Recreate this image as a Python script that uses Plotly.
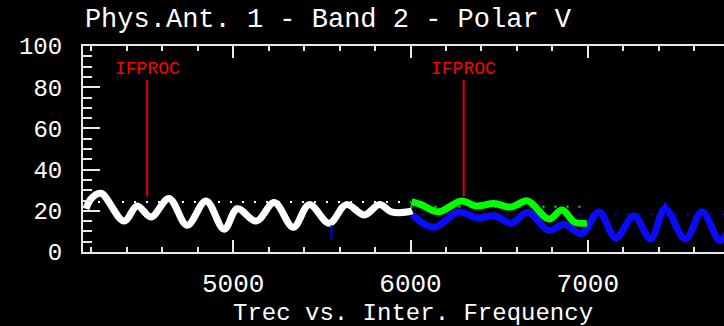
import plotly.graph_objects as go

# ---- data ----
white_x = [4170, 4200, 4254, 4384, 4458, 4537, 4638, 4740, 4847, 4949, 5023, 5130, 5232, 5339, 5429, 5542, 5638, 5740, 5825, 5893, 5990, 6010]
white_y = [21, 26, 28.5, 15, 22.3, 17, 26, 13, 24.8, 11, 21, 15, 24, 12, 23, 14, 23, 18, 23, 19.5, 19.5, 20]

green_x = [6006, 6060, 6158, 6288, 6370, 6470, 6565, 6660, 6780, 6855, 6925, 6995]
green_y = [24.5, 23, 19.5, 24.8, 22.3, 23.5, 21.8, 24.8, 16, 20.4, 14.5, 14]

blue_x = [6010, 6130, 6271, 6380, 6475, 6570, 6660, 6780, 6865, 6966, 7062, 7158, 7260, 7355, 7435, 7550, 7644, 7745, 7790]
blue_y = [18, 12, 19.4, 16.5, 17.5, 14, 19.3, 10.5, 13.5, 9, 19.4, 6.8, 17.5, 6.3, 21, 6.3, 19.5, 5.5, 10]

blue_spike_x = [7435, 7435]
blue_spike_y = [20, 24]
blue_tick_x = [5554, 5554]
blue_tick_y = [6, 13]

white_ref_x = [4170, 6000]
white_ref_y = [24.3, 24.3]
green_ref_x = [6000, 7000]
green_ref_y = [22, 22]
blue_ref_x = [6000, 7790]
blue_ref_y = [18.5, 18.5]

marker_x = [4515, 6300]
marker_label = ["IFPROC", "IFPROC"]
marker_y0 = 27
marker_y1 = 83.5
marker_label_y = 89

x_range = [4153, 7768]
y_range = [0, 100]
x_ticks = [5000, 6000, 7000]
y_ticks = [0, 20, 40, 60, 80, 100]

title_text = "Phys.Ant. 1 - Band 2 - Polar V"
x_title = "Trec vs. Inter. Frequency"

FONT = "Liberation Mono"
AXC = "#e8e8e8"

fig = go.Figure()

# dotted reference lines
for xs, ys, c in [(white_ref_x, white_ref_y, "#ffffff"), (green_ref_x, green_ref_y, "#00ff00"), (blue_ref_x, blue_ref_y, "#0000ff")]:
    fig.add_trace(go.Scatter(x=xs, y=ys, mode="lines", line=dict(color=c, width=2, dash="2px,10px"), hoverinfo="skip"))

# red IFPROC markers
for mx in marker_x:
    fig.add_trace(go.Scatter(x=[mx, mx], y=[marker_y0, marker_y1], mode="lines", line=dict(color="#e00000", width=2), hoverinfo="skip"))

fig.add_trace(go.Scatter(x=white_x, y=white_y, mode="lines", line=dict(color="#ffffff", width=7, shape="spline", smoothing=1.0)))
fig.add_trace(go.Scatter(x=blue_tick_x, y=blue_tick_y, mode="lines", line=dict(color="#0000ff", width=2)))
fig.add_trace(go.Scatter(x=blue_x, y=blue_y, mode="lines", line=dict(color="#0a0aff", width=7, shape="spline", smoothing=1.0)))
fig.add_trace(go.Scatter(x=blue_spike_x, y=blue_spike_y, mode="lines", line=dict(color="#0a0aff", width=3)))
fig.add_trace(go.Scatter(x=green_x, y=green_y, mode="lines", line=dict(color="#00ff00", width=7, shape="spline", smoothing=1.0)))

for mx, lab in zip(marker_x, marker_label):
    fig.add_annotation(x=mx, y=marker_label_y, text=lab, showarrow=False, xanchor="center", yanchor="middle",
                       font=dict(family=FONT, size=18, color="#ff0000"))

fig.add_annotation(xref="paper", yref="paper", x=0.515, y=-0.297, text=x_title, showarrow=False,
                   xanchor="center", yanchor="middle", font=dict(family=FONT, size=24, color="#ffffff"))

fig.update_layout(
    width=724, height=326,
    paper_bgcolor="#000000", plot_bgcolor="#000000",
    margin=dict(l=83, r=0, t=46, b=74, autoexpand=False),
    showlegend=False,
    title=dict(text=title_text, x=0.453, xref="container", xanchor="center", y=0.945, yref="container", yanchor="middle",
               automargin=False, font=dict(family=FONT, size=27, color="#ffffff")),
    xaxis=dict(range=x_range, tickvals=x_ticks, showgrid=False, zeroline=False, automargin=False,
               showline=True, linecolor=AXC, linewidth=2, mirror="ticks",
               ticks="inside", ticklen=12, tickwidth=2, tickcolor=AXC,
               ticklabelstandoff=7,
               tickfont=dict(family=FONT, size=26, color="#ffffff"),
               minor=dict(dtick=200, tick0=4000, ticks="inside", ticklen=5, tickwidth=2, tickcolor=AXC, showgrid=False)),
    yaxis=dict(range=y_range, tickvals=y_ticks, showgrid=False, zeroline=False, automargin=False,
               showline=True, linecolor=AXC, linewidth=2,
               ticks="inside", ticklen=17, tickwidth=2, tickcolor=AXC,
               ticklabelstandoff=14,
               tickfont=dict(family=FONT, size=24, color="#ffffff"),
               minor=dict(dtick=5, tick0=0, ticks="inside", ticklen=9, tickwidth=2, tickcolor=AXC, showgrid=False)),
)

fig.write_html("out.html", config={"displayModeBar": False},
               post_script="document.body.style.margin='0';document.body.style.padding='0';document.body.style.background='#000';")
